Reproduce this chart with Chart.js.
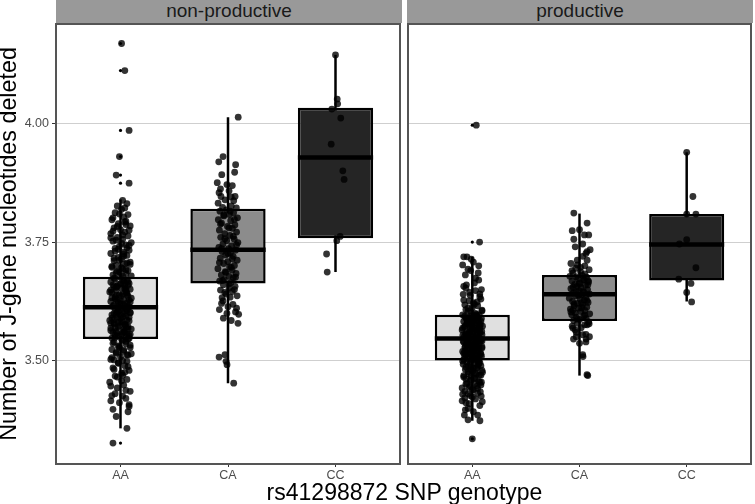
<!DOCTYPE html>
<html><head><meta charset="utf-8">
<script src="https://cdn.jsdelivr.net/npm/chart.js@4"></script>
<style>
body{margin:0;background:#fff;}
#wrap{position:relative;width:755px;height:504px;overflow:hidden;font-family:'Liberation Sans',Arial,sans-serif;}
canvas{position:absolute;top:0;}
.strip{position:absolute;top:0;height:23px;background:#999999;color:#1a1a1a;font-size:19px;line-height:21px;text-align:center;}
.xtitle{position:absolute;left:56px;width:697px;top:479px;height:26px;line-height:26px;font-size:23px;text-align:center;color:#000;}
</style></head><body>
<div id="wrap">
<canvas id="c1" width="404" height="504" style="left:0"></canvas>
<canvas id="c2" width="351" height="504" style="left:404px"></canvas>
<div class="strip" id="s1" style="left:56px;width:346px"></div>
<div class="strip" id="s2" style="left:407px;width:346px"></div>
<div class="xtitle" id="xt"></div>
</div>
<script>
const categories = ['AA','CA','CC'];
const panelNames = ['non-productive','productive'];
const xAxisTitle = 'rs41298872 SNP genotype';
const yAxisTitle = 'Number of J-gene nucleotides deleted';
const yTickValues = [3.50, 3.75, 4.00];
const yMin = 3.283, yMax = 4.209;

// box statistics, non-productive panel (AA, CA, CC)
const npLow  = [3.358, 3.453, 3.687];
const npQ1   = [3.546, 3.663, 3.758];
const npMed  = [3.613, 3.734, 3.928];
const npQ3   = [3.677, 3.820, 4.033];
const npHigh = [3.840, 4.013, 4.144];
// box statistics, productive panel
const pLow  = [3.374, 3.469, 3.625];
const pQ1   = [3.501, 3.584, 3.669];
const pMed  = [3.547, 3.640, 3.745];
const pQ3   = [3.597, 3.681, 3.809];
const pHigh = [3.719, 3.810, 3.939];

// boxplot outliers
const npOutAA = [4.168, 4.111, 3.985, 3.930, 3.891, 3.874, 3.327];
const pOutAA = [3.996, 3.750, 3.336];

// jittered observations: [jitter, value]
const npAA = [
[0.01,4.168],[0.04,4.111],[0.08,3.985],[-0.01,3.930],[-0.04,3.891],[0.08,3.874],
[0.02,3.838],[0.06,3.831],[-0.03,3.826],[0.01,3.819],[-0.05,3.812],[0.07,3.808],[0.03,3.803],[-0.08,3.797],[0.05,3.794],[-0.02,3.789],[0.09,3.784],[-0.06,3.780],[0.00,3.776],[0.04,3.771],[-0.09,3.768],[0.07,3.763],[-0.03,3.760],[0.02,3.756],[-0.07,3.752],[0.10,3.749],[0.05,3.744],[-0.01,3.741],[-0.05,3.737],[0.08,3.733],[0.03,3.729],[-0.09,3.726],[0.06,3.722],[-0.02,3.718],[0.01,3.715],[-0.06,3.711],[0.09,3.708],[0.04,3.704],[-0.04,3.701],[-0.08,3.697],[0.02,3.694],[0.07,3.690],[-0.01,3.687],[0.05,3.684],[-0.07,3.681],[0.10,3.679],
[0.00,3.676],[-0.05,3.673],[0.06,3.671],[0.03,3.668],[-0.09,3.666],[0.08,3.663],[-0.02,3.661],[0.04,3.658],[-0.06,3.656],[0.01,3.653],[0.09,3.651],[-0.04,3.648],[0.05,3.646],[-0.08,3.644],[0.02,3.641],[-0.01,3.639],[0.07,3.636],[-0.05,3.634],[0.10,3.632],[0.03,3.629],[-0.03,3.627],[-0.09,3.625],[0.06,3.622],[0.00,3.620],[-0.06,3.618],[0.04,3.616],[0.08,3.614],[-0.02,3.613],[0.02,3.670],[-0.07,3.660],[0.05,3.650],[-0.04,3.638],[0.09,3.624],[-0.10,3.645],[0.07,3.659],
[0.01,3.611],[-0.05,3.609],[0.06,3.606],[-0.02,3.604],[0.09,3.601],[0.03,3.599],[-0.08,3.597],[0.05,3.594],[-0.03,3.592],[0.00,3.589],[-0.06,3.587],[0.08,3.584],[0.02,3.582],[-0.09,3.579],[0.04,3.577],[-0.01,3.574],[0.07,3.572],[-0.05,3.570],[0.10,3.567],[0.03,3.565],[-0.04,3.562],[-0.07,3.560],[0.06,3.557],[0.01,3.555],[-0.02,3.552],[0.05,3.550],[-0.08,3.548],[0.08,3.547],[0.00,3.596],[-0.06,3.578],[0.04,3.563],[-0.10,3.585],[0.09,3.556],[-0.03,3.603],
[0.02,3.543],[-0.06,3.540],[0.05,3.536],[-0.01,3.532],[0.09,3.528],[-0.08,3.524],[0.03,3.520],[-0.04,3.516],[0.07,3.512],[0.00,3.508],[-0.09,3.503],[0.06,3.499],[-0.02,3.495],[0.04,3.490],[-0.07,3.485],[0.08,3.480],[0.01,3.474],[-0.05,3.468],[0.06,3.461],[-0.10,3.455],[0.03,3.449],[-0.03,3.443],[0.09,3.436],[-0.08,3.427],[0.05,3.421],[-0.09,3.416],[0.08,3.404],[0.07,3.393],[-0.04,3.383],[0.06,3.358],[-0.07,3.327],[0.02,3.470],[-0.06,3.502],[0.10,3.515],[-0.02,3.530],
[-0.07,3.801],[0.04,3.792],[-0.03,3.783],[0.08,3.775],[-0.09,3.759],[0.01,3.747],[0.06,3.738],[-0.05,3.731],[0.03,3.720],[-0.01,3.712],[0.09,3.703],[-0.08,3.699],[0.05,3.692],[-0.04,3.686],[0.02,3.679],[-0.06,3.674],[0.07,3.667],[0.00,3.662],[-0.03,3.657],[0.04,3.652],[-0.09,3.649],[0.06,3.643],[0.01,3.637],[-0.05,3.631],[0.08,3.628],[-0.02,3.623],[0.03,3.619],[-0.07,3.615],[0.05,3.610],[-0.01,3.607],[0.09,3.602],[-0.04,3.598],[0.02,3.593],[-0.08,3.590],[0.06,3.586],[0.00,3.583],[-0.06,3.580],[0.04,3.576],[-0.02,3.571],[0.07,3.568],[-0.09,3.564],[0.03,3.561],[-0.03,3.558],[0.08,3.553],[-0.05,3.549],[0.01,3.545],[0.05,3.541],[-0.07,3.537],[0.09,3.533],[-0.01,3.528],[0.03,3.523],[-0.04,3.518],[0.06,3.513],[-0.08,3.507],[0.02,3.501],[-0.02,3.496],[0.07,3.488],[-0.06,3.482],[0.04,3.476],[-0.03,3.466],[0.01,3.458],[-0.09,3.447],[0.05,3.438],[-0.05,3.431],[0.02,3.426],[-0.01,3.412],[0.08,3.408],[-0.07,3.398],[0.03,3.663],[-0.04,3.655],[0.06,3.640],[-0.08,3.633],[0.00,3.626],[0.04,3.605],[-0.06,3.600],[0.08,3.592],[-0.02,3.581],[0.05,3.573],[-0.09,3.569],[0.02,3.559],[-0.05,3.554],[0.07,3.546],[-0.03,3.689],[0.01,3.696],[0.06,3.706],[-0.06,3.716],[0.03,3.725],[-0.02,3.735],[0.08,3.743],[-0.04,3.754],[0.02,3.765],[-0.07,3.773],[0.05,3.787],[-0.01,3.809],[0.04,3.822]
];
const npCA = [
[0.095,4.013],[-0.046,3.930],[-0.086,3.919],[0.071,3.913],[0.062,3.897],[-0.058,3.892],[-0.100,3.875],[-0.010,3.871],[-0.083,3.854],[-0.028,3.839],[0.053,3.837],[-0.092,3.832],[0.040,3.869],[-0.065,3.846],[0.066,3.846],[0.010,3.858],
[-0.050,3.823],[0.030,3.826],[0.078,3.822],[-0.015,3.818],[-0.075,3.815],[0.052,3.812],[0.012,3.808],[-0.038,3.805],[0.088,3.801],[-0.090,3.797],[0.025,3.795],[-0.060,3.790],[0.064,3.786],[-0.005,3.783],[0.041,3.779],[-0.080,3.775],[0.080,3.771],[-0.030,3.768],[0.018,3.764],[-0.068,3.760],[0.058,3.756],[-0.012,3.753],[0.092,3.749],[-0.047,3.746],[0.033,3.742],[-0.085,3.739],[0.005,3.736],[0.070,3.733],[-0.055,3.730],[0.022,3.727],[-0.022,3.723],[0.048,3.720],[-0.072,3.716],[0.085,3.712],[-0.002,3.709],[-0.040,3.705],[0.060,3.701],[0.015,3.698],[-0.094,3.694],[0.038,3.691],[-0.025,3.688],[0.075,3.684],[-0.062,3.681],[0.008,3.678],[0.050,3.675],[-0.035,3.671],[-0.078,3.668],[0.028,3.665],
[-0.043,3.660],[0.066,3.657],[0.010,3.653],[-0.070,3.649],[0.040,3.646],[-0.018,3.641],[0.085,3.637],[-0.055,3.633],[-0.046,3.626],[0.046,3.619],[0.000,3.614],[-0.080,3.608],[0.070,3.603],[0.099,3.598],[-0.043,3.590],[0.093,3.579],[0.030,3.585],[-0.083,3.508],[-0.028,3.513],[-0.018,3.499],[-0.009,3.492],[0.053,3.453],
[0.02,3.815],[-0.04,3.807],[0.06,3.798],[-0.07,3.788],[0.01,3.780],[0.05,3.762],[-0.03,3.757],[0.08,3.744],[-0.06,3.736],[0.00,3.726],[0.04,3.715],[-0.08,3.707],[0.03,3.697],[-0.02,3.686],[0.07,3.676],[-0.05,3.669],[0.01,3.662],[0.06,3.650],[-0.03,3.644],[0.02,3.634],[-0.06,3.621],[0.08,3.611],[-0.01,3.600],[0.03,3.845],[-0.07,3.862]
];
const npCC = [
[0.000,4.144],[0.016,4.051],[0.020,4.041],[-0.034,4.030],[0.049,4.011],[-0.040,3.956],[0.068,3.900],[0.080,3.882],[0.043,3.762],[0.012,3.753],[-0.083,3.725],[-0.077,3.687]
];
const pAA = [
[0.037,3.996],[0.068,3.750],[-0.080,3.719],[-0.050,3.719],[-0.090,3.702],[0.010,3.708],[-0.015,3.690],[0.055,3.685],[-0.065,3.681],[0.060,3.670],[-0.055,3.660],[0.085,3.650],[0.020,3.664],[-0.085,3.640],[0.080,3.630],[-0.025,3.644],[0.045,3.624],[-0.070,3.618],[0.000,3.612],[0.090,3.607],[-0.040,3.604],[0.030,3.600],
[-0.090,3.597],[0.065,3.596],[-0.010,3.594],[0.040,3.592],[-0.060,3.591],[0.085,3.589],[0.015,3.588],[-0.035,3.586],[0.055,3.584],[-0.080,3.583],[0.000,3.581],[0.030,3.580],[-0.050,3.578],[0.075,3.576],[-0.020,3.575],[0.095,3.573],[-0.070,3.571],[0.020,3.570],[-0.005,3.568],[0.050,3.566],[-0.095,3.565],[0.070,3.563],[-0.030,3.561],[0.010,3.560],[-0.060,3.558],[0.040,3.556],[0.090,3.555],[-0.015,3.553],[-0.075,3.551],[0.060,3.550],[0.025,3.548],[-0.045,3.547],[0.005,3.545],[0.080,3.543],[-0.085,3.542],[0.035,3.540],[-0.025,3.538],[0.065,3.537],[-0.055,3.535],[0.000,3.533],[0.045,3.532],[-0.010,3.530],[-0.070,3.528],[0.090,3.527],[0.020,3.525],[-0.040,3.523],[0.055,3.522],[-0.090,3.520],[0.010,3.518],[0.075,3.517],[-0.020,3.515],[-0.060,3.513],[0.035,3.512],[0.085,3.510],[-0.035,3.508],[0.000,3.507],[0.050,3.505],[-0.080,3.503],[0.025,3.502],[-0.010,3.501],
[0.015,3.595],[-0.045,3.582],[0.070,3.571],[-0.028,3.557],[0.042,3.546],[-0.065,3.531],[0.008,3.521],[0.062,3.509],[-0.052,3.587],[0.088,3.562],[-0.088,3.554],[0.032,3.536],[-0.003,3.577],[0.052,3.592],[-0.038,3.516],
[0.060,3.499],[-0.050,3.497],[0.020,3.495],[-0.085,3.493],[0.080,3.490],[-0.015,3.488],[0.040,3.485],[-0.065,3.482],[0.005,3.479],[0.095,3.476],[-0.035,3.473],[0.065,3.470],[-0.080,3.466],[0.025,3.463],[-0.020,3.459],[0.085,3.455],[-0.060,3.451],[0.045,3.447],[-0.095,3.443],[0.010,3.439],[0.075,3.435],[-0.040,3.431],[0.083,3.426],[-0.070,3.422],[0.093,3.414],[-0.095,3.416],[-0.030,3.410],[-0.065,3.397],[-0.074,3.386],[-0.040,3.376],[0.071,3.374],[0.000,3.336],[0.030,3.452],[-0.010,3.468],[0.050,3.486],
[-0.06,3.653],[0.03,3.648],[-0.02,3.638],[0.07,3.635],[-0.08,3.628],[0.01,3.622],[0.05,3.616],[-0.04,3.611],[0.09,3.605],[-0.01,3.601],[0.04,3.598],[-0.07,3.594],[0.02,3.590],[-0.03,3.586],[0.08,3.583],[-0.05,3.579],[0.00,3.576],[0.06,3.572],[-0.09,3.569],[0.03,3.566],[-0.02,3.562],[0.07,3.559],[-0.06,3.556],[0.01,3.552],[0.05,3.549],[-0.04,3.546],[0.09,3.542],[-0.08,3.539],[0.02,3.535],[-0.01,3.532],[0.06,3.528],[-0.05,3.525],[0.04,3.521],[-0.03,3.518],[0.08,3.514],[-0.07,3.511],[0.00,3.508],[0.03,3.504],[-0.09,3.500],[0.07,3.497],[-0.02,3.494],[0.05,3.491],[-0.06,3.487],[0.01,3.484],[0.09,3.480],[-0.04,3.477],[0.04,3.472],[-0.08,3.469],[0.02,3.464],[-0.01,3.460],[0.06,3.457],[-0.05,3.453],[0.08,3.449],[-0.03,3.445],[0.00,3.440],[-0.07,3.436],[0.05,3.432],[-0.02,3.427],[0.03,3.420],[-0.06,3.412],[0.07,3.406],[-0.04,3.400],[0.01,3.393],[0.05,3.386],[-0.03,3.589],[0.06,3.580],[-0.07,3.573],[0.02,3.565],[-0.05,3.555],[0.08,3.545],[-0.01,3.537],[0.04,3.527],[-0.08,3.516],[0.01,3.506],[0.06,3.498],[-0.04,3.489],[0.03,3.474],[-0.06,3.462],[0.07,3.455],[-0.02,3.447],[0.05,3.442],[-0.09,3.430],[0.00,3.424],[0.04,3.595],[-0.06,3.608],[0.02,3.619],[-0.03,3.626],[0.07,3.641],[-0.08,3.657],[0.03,3.674],[-0.04,3.693],[0.06,3.700],[-0.01,3.714],[0.01,3.584],[-0.02,3.570],[0.05,3.560],[-0.05,3.541],[0.09,3.530],[-0.07,3.520],[0.02,3.510],[-0.03,3.503],[0.06,3.493],[-0.01,3.481],[0.08,3.470]
];
const pCA = [
[-0.053,3.811],[0.071,3.790],[-0.068,3.774],[0.000,3.776],[0.046,3.765],[0.086,3.765],[-0.053,3.756],[0.099,3.734],[0.071,3.730],[-0.021,3.712],[0.071,3.712],[0.030,3.720],[-0.080,3.705],[0.050,3.700],[-0.035,3.695],[0.090,3.692],[0.010,3.688],[-0.060,3.685],
[0.025,3.680],[-0.090,3.678],[0.065,3.676],[-0.015,3.673],[0.040,3.671],[-0.070,3.668],[0.085,3.666],[0.000,3.664],[-0.045,3.661],[0.055,3.659],[-0.025,3.657],[0.015,3.654],[-0.080,3.652],[0.075,3.650],[-0.005,3.648],[0.035,3.646],[-0.058,3.643],[0.092,3.641],[0.020,3.639],[-0.038,3.637],[0.060,3.634],[-0.095,3.632],[0.005,3.630],[0.045,3.628],[-0.065,3.625],[0.080,3.623],[-0.020,3.621],[0.030,3.618],[-0.050,3.616],[0.068,3.613],[-0.008,3.611],[-0.085,3.609],[0.050,3.606],[0.012,3.604],[-0.040,3.601],[0.095,3.599],[-0.072,3.597],[0.038,3.594],[-0.028,3.592],[0.062,3.589],[0.002,3.587],[-0.055,3.585],[0.078,3.660],[-0.030,3.645],[0.018,3.622],[-0.062,3.607],[0.042,3.670],
[0.086,3.582],[-0.020,3.579],[0.048,3.576],[-0.068,3.573],[0.015,3.570],[-0.062,3.569],[0.071,3.576],[-0.030,3.560],[0.060,3.556],[-0.031,3.551],[0.093,3.551],[-0.056,3.546],[0.062,3.546],[0.000,3.537],[0.030,3.513],[0.033,3.509],[0.077,3.469],[0.070,3.471],
[0.03,3.746],[-0.04,3.740],[0.06,3.726],[-0.02,3.702],[0.01,3.697],[-0.07,3.690],[0.05,3.683],[-0.03,3.677],[0.08,3.669],[0.00,3.662],[-0.06,3.655],[0.04,3.644],[-0.01,3.638],[0.07,3.627],[-0.05,3.620],[0.02,3.612],[-0.08,3.603],[0.05,3.596],[-0.02,3.588],[0.09,3.578],[-0.04,3.565],[0.03,3.555],[0.06,3.540]
];
const pCC = [
[0.000,3.939],[0.058,3.846],[0.000,3.809],[0.086,3.809],[0.000,3.755],[-0.068,3.746],[0.086,3.696],[-0.074,3.672],[0.000,3.644],[0.046,3.624],[0.040,3.663]
];

const FONT = "'Liberation Sans', Arial, sans-serif";
const boxFill = ['#e0e0e0', '#8c8c8c', '#252525'];
const HALF = 0.35;

document.getElementById('s1').textContent = panelNames[0];
document.getElementById('s2').textContent = panelNames[1];
document.getElementById('xt').textContent = xAxisTitle;

const panelBorder = {
  id: 'panelBorder',
  afterDraw(chart) {
    const {ctx, chartArea: a} = chart;
    ctx.save();
    ctx.strokeStyle = '#555555';
    ctx.lineWidth = 2;
    ctx.strokeRect(a.left, a.top, a.right - a.left, a.bottom - a.top);
    ctx.restore();
  }
};

function buildChart(canvasId, low, q1, med, q3, high, groups, outliers, isLeft) {
  const xs = categories.map((c, i) => i + 1);
  const datasets = [];
  const jitter = [];
  groups.forEach((g, i) => g.forEach(([dx, v]) => jitter.push({x: xs[i] + dx, y: v})));
  datasets.push({type: 'scatter', data: jitter, order: 0, pointRadius: 3.4,
    pointBackgroundColor: 'rgba(0,0,0,0.8)', pointBorderWidth: 0, pointHoverRadius: 3.4});
  const outl = [];
  outliers.forEach((g, i) => g.forEach(v => outl.push({x: xs[i], y: v})));
  datasets.push({type: 'scatter', data: outl, order: 1, pointRadius: 1.6,
    pointBackgroundColor: '#000', pointBorderWidth: 0});
  xs.forEach((x, i) => {
    datasets.push({type: 'scatter', showLine: true, order: 2, pointRadius: 0,
      borderColor: '#000', borderWidth: 4.5, borderCapStyle: 'butt',
      data: [{x: x - HALF, y: med[i]}, {x: x + HALF, y: med[i]}]});
    datasets.push({type: 'scatter', showLine: true, order: 4, pointRadius: 0,
      borderColor: '#000', borderWidth: 2.5, borderCapStyle: 'butt',
      data: [{x: x, y: low[i]}, {x: x, y: high[i]}]});
  });
  datasets.push({type: 'bar', order: 3, data: xs.map((x, i) => ({x: x, y: [q1[i], q3[i]]})),
    backgroundColor: boxFill, borderColor: '#000', borderWidth: 2.5, borderSkipped: false,
    categoryPercentage: 1, barPercentage: 0.7});

  const yScale = {
    type: 'linear', min: yMin, max: yMax,
    border: {display: false},
    afterBuildTicks: ax => { ax.ticks = yTickValues.map(v => ({value: v})); },
    afterFit: ax => { ax.width = isLeft ? 56 : 0; },
    grid: {color: '#cfcfcf', lineWidth: 1, tickColor: '#333', tickLength: 4, drawTicks: isLeft},
    ticks: {display: isLeft, padding: 3, color: '#4d4d4d', font: {size: 12.5, family: FONT},
      callback: v => Number(v).toFixed(2)},
    title: {display: isLeft, text: yAxisTitle, color: '#000', padding: 0,
      font: {size: 23.3, family: FONT, lineHeight: 0.83}}
  };
  const xScale = {
    type: 'linear', min: 0.4, max: 3.6, offset: false,
    border: {display: false},
    afterBuildTicks: ax => { ax.ticks = xs.map(v => ({value: v})); },
    afterFit: ax => { ax.height = 40; },
    grid: {drawOnChartArea: false, color: '#333', tickLength: 3, offset: false},
    ticks: {autoSkip: false, maxRotation: 0, padding: 1, color: '#4d4d4d',
      font: {size: 12.5, family: FONT}, callback: v => categories[Math.round(v) - 1] || ''}
  };
  return new Chart(document.getElementById(canvasId), {
    type: 'scatter',
    data: {datasets},
    options: {
      responsive: false, animation: false, devicePixelRatio: 1, events: [],
      layout: {padding: {left: isLeft ? 0 : 3, right: 2, top: 24, bottom: 0}},
      plugins: {legend: {display: false}, tooltip: {enabled: false}},
      scales: {x: xScale, y: yScale}
    },
    plugins: [panelBorder]
  });
}

buildChart('c1', npLow, npQ1, npMed, npQ3, npHigh, [npAA, npCA, npCC], [npOutAA, [], []], true);
buildChart('c2', pLow, pQ1, pMed, pQ3, pHigh, [pAA, pCA, pCC], [pOutAA, [], []], false);
</script>
</body></html>
